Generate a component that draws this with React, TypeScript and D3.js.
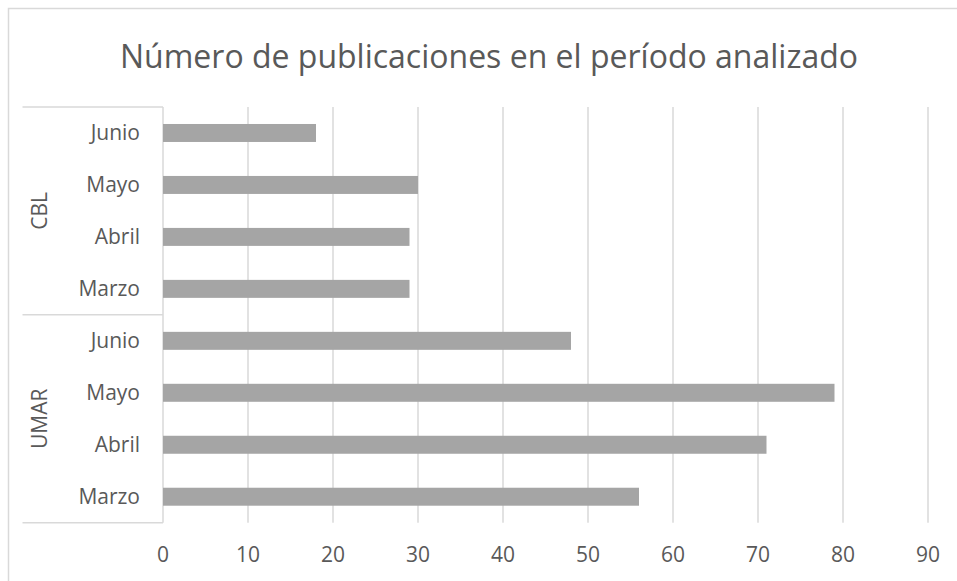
import React from 'react';
import * as d3 from 'd3';

const groups = ['CBL', 'UMAR'];
const months = ['Junio', 'Mayo', 'Abril', 'Marzo'];
const cblValues = [18, 30, 29, 29];
const umarValues = [48, 79, 71, 56];
const xTicks = [0, 10, 20, 30, 40, 50, 60, 70, 80, 90];
const title = 'Número de publicaciones en el período analizado';

const W = 957;
const H = 581;
const font = '"Open Sans", "Noto Sans", sans-serif';
const textColor = '#595959';
const gridColor = '#d9d9d9';
const barColor = '#a5a5a5';

export default function App() {
  const rows = groups.flatMap((g, gi) =>
    months.map((m, mi) => ({
      group: g,
      month: m,
      key: `${g}-${m}`,
      value: gi === 0 ? cblValues[mi] : umarValues[mi],
    }))
  );

  const plot = { left: 163, right: 928, top: 107, bottom: 522.7 };

  const x = d3.scaleLinear().domain([0, 90]).range([plot.left, plot.right]);
  const y = d3
    .scaleBand()
    .domain(rows.map(d => d.key))
    .range([plot.top, plot.bottom])
    .paddingInner(0.654)
    .paddingOuter(0.327);

  // group boundaries on the category axis
  const groupSpan = (g: string) => {
    const keys = rows.filter(r => r.group === g).map(r => r.key);
    const start = y(keys[0])! - (y.step() * y.paddingInner()) / 2;
    const end = y(keys[keys.length - 1])! + y.bandwidth() + (y.step() * y.paddingInner()) / 2;
    return [start, end];
  };

  return (
    <svg width={W} height={H} style={{ position: 'absolute', left: 0, top: 0, background: '#fff' }}>
      {/* chart border */}
      <rect x={8.5} y={8.5} width={W + 10} height={H + 10} fill="#fff" stroke={gridColor} strokeWidth={1.5} />

      <text x={489} y={68} textAnchor="middle" fontFamily={font} fontSize={32} fill={textColor}>
        {title}
      </text>

      {/* vertical gridlines */}
      {xTicks.map(t => (
        <line key={t} x1={x(t)} x2={x(t)} y1={plot.top} y2={plot.bottom} stroke={gridColor} strokeWidth={1.5} />
      ))}

      {/* category axis lines */}
      {[plot.top, groupSpan('CBL')[1], plot.bottom].map((yy, i) => (
        <line key={i} x1={22.5} x2={plot.left} y1={yy} y2={yy} stroke={gridColor} strokeWidth={1.5} />
      ))}

      {/* bars */}
      {rows.map(d => (
        <rect key={d.key} x={x(0)} y={y(d.key)} width={x(d.value) - x(0)} height={y.bandwidth()} fill={barColor} />
      ))}

      {/* month labels */}
      {rows.map(d => (
        <text
          key={'l' + d.key}
          x={140}
          y={y(d.key)! + y.bandwidth() / 2}
          dy="0.35em"
          textAnchor="end"
          fontFamily={font}
          fontSize={21}
          fill={textColor}
        >
          {d.month}
        </text>
      ))}

      {/* group labels */}
      {groups.map(g => {
        const [s, e] = groupSpan(g);
        const cy = (s + e) / 2;
        return (
          <text
            key={g}
            transform={`translate(40,${cy}) rotate(-90)`}
            dy="0.35em"
            textAnchor="middle"
            fontFamily={font}
            fontSize={21}
            fill={textColor}
          >
            {g}
          </text>
        );
      })}

      {/* x tick labels */}
      {xTicks.map(t => (
        <text key={'t' + t} x={x(t)} y={562} textAnchor="middle" fontFamily={font} fontSize={21} fill={textColor}>
          {t}
        </text>
      ))}
    </svg>
  );
}
